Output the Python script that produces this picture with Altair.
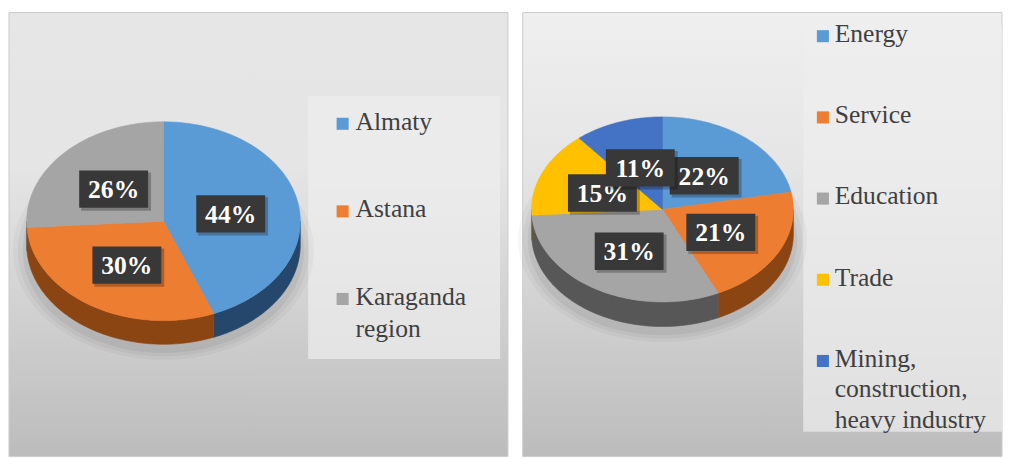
import altair as alt
import pandas as pd

# ---------------- data ----------------
regions = ["Almaty", "Astana", "Karaganda\nregion"]
region_share = [44, 30, 26]
region_colors = ["#5B9BD5", "#ED7D31", "#A5A5A5"]
region_side_colors = ["#24476b", "#8a4512", "#5e5e5e"]

sectors = ["Energy", "Service", "Education", "Trade",
           "Mining,\nconstruction,\nheavy industry"]
sector_share = [22, 21, 31, 15, 11]
sector_colors = ["#5B9BD5", "#ED7D31", "#A5A5A5", "#FFC000", "#4472C4"]
sector_side_colors = ["#24476b", "#8a4512", "#575757", "#9a7400", "#26457a"]

LABEL_FONT = "Liberation Serif, Times New Roman, serif"


def panel(names, shares, colors, side_colors, W, H, pie, leg, tag, top_color):
    df = pd.DataFrame({"name": names, "share": shares})
    cx, cy, rx, ry, depth = pie
    lx0, lx1, ly0, ly1, sx, tx, sy0, step, fs, lh = leg

    xs = alt.Scale(domain=[0, W], nice=False, zero=False)
    ys = alt.Scale(domain=[0, H], nice=False, zero=False, reverse=True)
    fill_scale = alt.Scale(domain=[tag + n for n in names] + [tag + "side:" + n for n in names],
                           range=colors + side_colors)

    base = (
        alt.Chart(df)
        .transform_window(cum="sum(share)", idx="row_number()", frame=[None, 0])
        .transform_joinaggregate(total="sum(share)")
        .transform_calculate(
            a0="2*PI*(datum.cum-datum.share)/datum.total",
            a1="2*PI*datum.cum/datum.total",
            key=f"'{tag}' + datum.name",
            skey=f"'{tag}side:' + datum.name",
        )
    )

    # background
    bg = alt.Chart(pd.DataFrame({"z": [0]})).mark_rect(
        fill={"gradient": "linear", "x1": 0, "y1": 0, "x2": 0, "y2": 1,
              "stops": [{"offset": 0, "color": top_color},
                        {"offset": 0.35, "color": "#e5e5e5"},
                        {"offset": 1, "color": "#bcbcbc"}]},
        stroke="#cbcbcb", strokeWidth=1,
    ).encode(x=alt.value(0), x2=alt.value(W), y=alt.value(0), y2=alt.value(H))

    # legend background
    legbg = alt.Chart(pd.DataFrame({"z": [0]})).mark_rect(
        fill="#eeeeee", opacity=0.7
    ).encode(x=alt.value(lx0), x2=alt.value(lx1), y=alt.value(ly0), y2=alt.value(ly1))

    # soft shadow under pie
    shadows = []
    for e, op in [(14, 0.03), (9, 0.04), (4, 0.05)]:
        sh = (
            alt.Chart(pd.DataFrame({"z": [0]}))
            .transform_calculate(k="sequence(0, 121)")
            .transform_flatten(["k"])
            .transform_calculate(
                ang="2*PI*datum.k/120",
                px=f"{cx} + {rx + e}*sin(datum.ang)",
                py=f"{cy + depth + 6} - {ry + e * 0.7}*cos(datum.ang)",
            )
            .mark_line(interpolate="linear-closed", fill="#000000", fillOpacity=op,
                       strokeOpacity=0)
            .encode(x=alt.X("px:Q", scale=xs, axis=None),
                    y=alt.Y("py:Q", scale=ys, axis=None),
                    order="k:Q")
        )
        shadows.append(sh)

    # 3D side of the pie
    side = (
        base.transform_calculate(s0="max(datum.a0, PI/2)", s1="min(datum.a1, 3*PI/2)")
        .transform_filter("datum.s1 > datum.s0")
        .transform_calculate(k="sequence(0, 122)")
        .transform_flatten(["k"])
        .transform_calculate(
            ang="datum.k <= 60 ? datum.s0 + (datum.s1-datum.s0)*datum.k/60 "
                ": datum.s1 - (datum.s1-datum.s0)*(datum.k-61)/60",
            px=f"{cx} + {rx}*sin(datum.ang)",
            py=f"{cy} - {ry}*cos(datum.ang) + (datum.k <= 60 ? 0 : {depth})",
        )
        .mark_line(interpolate="linear-closed", strokeWidth=0.6)
        .encode(x=alt.X("px:Q", scale=xs, axis=None),
                y=alt.Y("py:Q", scale=ys, axis=None),
                order="k:Q", detail="skey:N",
                fill=alt.Fill("skey:N", scale=fill_scale, legend=None),
                stroke=alt.Stroke("skey:N", scale=fill_scale, legend=None))
    )

    # top face
    top = (
        base.transform_calculate(k="sequence(-1, 61)")
        .transform_flatten(["k"])
        .transform_calculate(
            ang="datum.a0 + (datum.a1-datum.a0)*max(datum.k,0)/60",
            px=f"datum.k < 0 ? {cx} : {cx} + {rx}*sin(datum.ang)",
            py=f"datum.k < 0 ? {cy} : {cy} - {ry}*cos(datum.ang)",
        )
        .mark_line(interpolate="linear-closed", strokeWidth=0.6)
        .encode(x=alt.X("px:Q", scale=xs, axis=None),
                y=alt.Y("py:Q", scale=ys, axis=None),
                order="k:Q", detail="key:N",
                fill=alt.Fill("key:N", scale=fill_scale, legend=None),
                stroke=alt.Stroke("key:N", scale=fill_scale, legend=None))
    )

    # data labels (box + text per slice, drawn in order)
    lab = base.transform_calculate(
        lx=f"{cx} + 0.5*{rx}*sin((datum.a0+datum.a1)/2)",
        ly=f"{cy} - 0.5*{ry}*cos((datum.a0+datum.a1)/2) + 2",
        pct="datum.share + '%'",
    )
    label_layers = []
    for i in range(len(names)):
        li = lab.transform_filter(f"datum.idx == {i + 1}")
        shadow = li.mark_rect(xOffset=-33, x2Offset=38, yOffset=-17, y2Offset=22,
                              fill="#000000", opacity=0.25).encode(
            x=alt.X("lx:Q", scale=xs, axis=None), x2="lx:Q",
            y=alt.Y("ly:Q", scale=ys, axis=None), y2="ly:Q")
        box = li.mark_rect(xOffset=-35, x2Offset=35, yOffset=-19, y2Offset=19,
                           fill="#383838").encode(
            x=alt.X("lx:Q", scale=xs, axis=None), x2="lx:Q",
            y=alt.Y("ly:Q", scale=ys, axis=None), y2="ly:Q")
        txt = li.mark_text(font=LABEL_FONT, fontWeight="bold", fontSize=26,
                           color="#ffffff", align="center", baseline="middle",
                           dy=1).encode(
            x=alt.X("lx:Q", scale=xs, axis=None),
            y=alt.Y("ly:Q", scale=ys, axis=None), text="pct:N")
        label_layers += [shadow, box, txt]

    # legend
    legd = base.transform_calculate(sy=f"{sy0} + (datum.idx-1)*{step}")
    sq = legd.mark_square(size=150, opacity=1).encode(
        x=alt.value(sx), y=alt.Y("sy:Q", scale=ys, axis=None),
        fill=alt.Fill("key:N", scale=fill_scale, legend=None))
    lt = legd.mark_text(font=LABEL_FONT, fontSize=fs, color="#3f3f3f", align="left",
                        baseline="alphabetic", dy=6, lineBreak="\n",
                        lineHeight=lh).encode(
        x=alt.value(tx), y=alt.Y("sy:Q", scale=ys, axis=None), text="name:N")

    return alt.layer(bg, legbg, *shadows, side, top, *label_layers, sq, lt).properties(
        width=W, height=H)


left = panel(regions, region_share, region_colors, region_side_colors,
             507, 451,
             (157, 212, 139, 101, 24),
             (304, 499, 85, 352, 339, 352, 113, 89, 26, 33), "L:", "#e6e6e6")
right = panel(sectors, sector_share, sector_colors, sector_side_colors,
              487, 451,
              (142, 200, 133, 94, 25),
              (285, 487, 13, 426, 305, 317, 24, 82.5, 26, 31), "R:", "#efefef")

chart = alt.hconcat(left, right, spacing=9).properties(
    padding={"left": 0, "top": 0, "right": 0, "bottom": 0},
    background="#ffffff",
).resolve_scale(fill="independent", stroke="independent").configure_view(strokeWidth=0)

chart.save("out.html", embed_options={"renderer": "svg", "actions": False})
